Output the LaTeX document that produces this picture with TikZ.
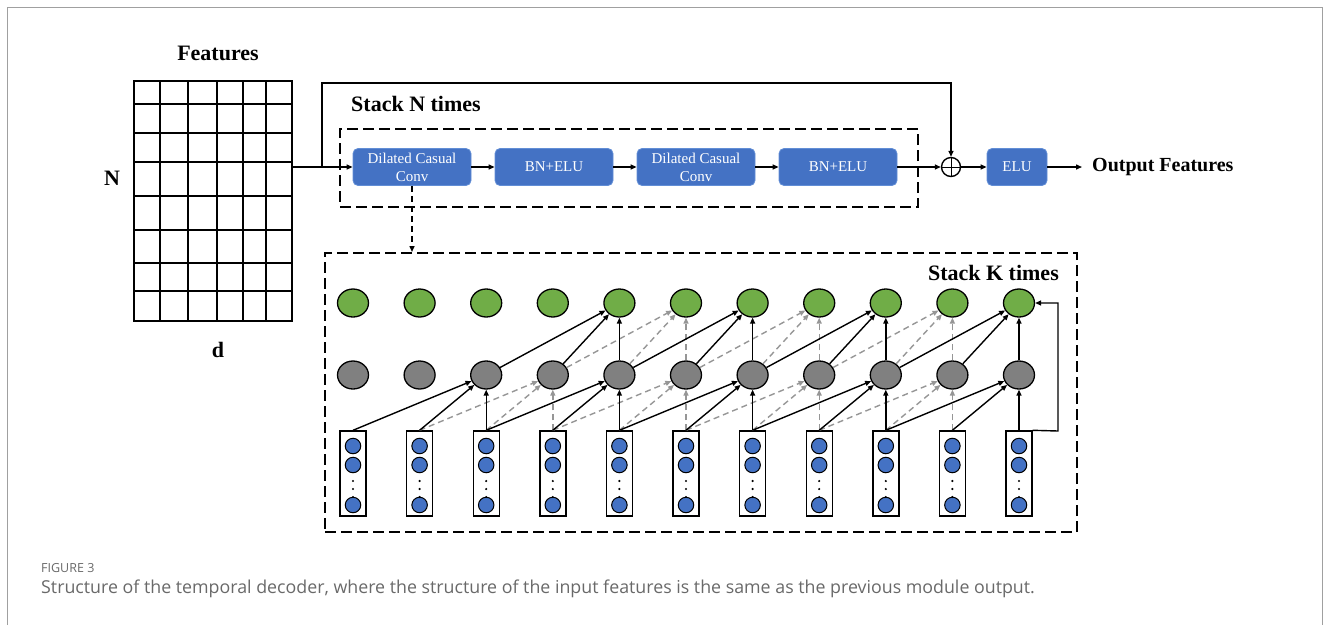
\documentclass[tikz,border=0pt]{standalone}
\usepackage{fontspec}
\setmainfont{Liberation Serif}
\newfontfamily\capfont{Open Sans}
\usetikzlibrary{arrows.meta,shapes.geometric}
\definecolor{boxblue}{RGB}{68,114,196}
\definecolor{boxedge}{RGB}{98,142,214}
\definecolor{leafgreen}{RGB}{112,173,71}
\definecolor{midgray}{RGB}{128,128,128}
\definecolor{dashgray}{RGB}{150,150,150}
\definecolor{framegray}{RGB}{160,160,160}
\definecolor{capgray}{RGB}{105,105,105}
\tikzset{
  blk/.style={draw=boxedge, line width=0.8pt, fill=boxblue, rounded corners=5pt, text=white,
    minimum width=118pt, minimum height=37pt, inner sep=0pt, align=center,
    font=\fontsize{15}{18}\selectfont},
  arr/.style={-{Triangle[length=6pt,width=5pt]}, line width=1.4pt, black},
  darr/.style={-{Triangle[length=6pt,width=5pt]}, line width=1.4pt, dashgray, dash pattern=on 6pt off 4pt},
  kdarr/.style={-{Triangle[length=6pt,width=5pt]}, line width=1.4pt, black, dash pattern=on 6pt off 4pt},
  dbox/.style={draw, line width=2pt, dash pattern=on 11pt off 5pt, inner sep=0pt},
  gnode/.style={ellipse, draw, line width=1.3pt, fill=leafgreen, minimum width=31pt, minimum height=28pt, inner sep=0pt},
  hnode/.style={ellipse, draw, line width=1.3pt, fill=midgray, minimum width=31pt, minimum height=28pt, inner sep=0pt},
  inbox/.style={draw, line width=1.4pt, minimum width=26pt, minimum height=85pt, inner sep=0pt},
  unit/.style={circle, draw, line width=1pt, fill=boxblue, minimum size=15.5pt, inner sep=0pt},
  bigtxt/.style={font=\fontsize{22}{25}\selectfont\bfseries, inner sep=0pt},
}
\begin{document}
\begin{tikzpicture}[x=1pt,y=-1pt]
\useasboundingbox (0,0) rectangle (1331,625);
% frame
\draw[framegray, line width=1pt] (7,625) -- (7,7) -- (1322,7) -- (1322,625);

% feature grid
\node[draw, line width=2pt, minimum width=158pt, minimum height=240pt, inner sep=0pt] (grid) at (213,201) {};
\foreach \yy in {104,133,162,196,230,263,291} \draw[line width=2pt] (134,\yy) -- (292,\yy);
\foreach \xx in {160,188,217,243,266} \draw[line width=2pt] (\xx,81) -- (\xx,321);
\node[bigtxt] (feat) at (218,53) {Features};
\node[bigtxt] (nlab) at (112,178) {N};
\node[bigtxt] (dlab) at (218,350) {d};

% Stack N
\node[dbox, minimum width=578pt, minimum height=78pt] (nbox) at (629,168) {};
\node[bigtxt, anchor=west] (ntxt) at (351,104) {Stack N times};
\node[blk] (dcc1) at (412,167) {Dilated Casual\\Conv};
\node[blk] (bn1) at (554,167) {BN+ELU};
\node[blk] (dcc2) at (696,167) {Dilated Casual\\Conv};
\node[blk] (bn2) at (838,167) {BN+ELU};
\node[circle, draw, line width=1.4pt, fill=white, minimum size=19pt, inner sep=0pt] (plus) at (951,167) {};
\draw[line width=1pt] (plus.north) -- (plus.south) (plus.west) -- (plus.east);
\node[blk, minimum width=60pt] (elu) at (1017,167) {ELU};
\node[font=\fontsize{20}{24}\selectfont\bfseries, anchor=west, inner ysep=0pt, inner xsep=10pt] (outf) at (1082,167) {Output Features};

\coordinate (sk) at (322,167);
\coordinate (skt) at (322,83);
\draw[line width=1.4pt] (grid.east |- dcc1) -- (sk);
\draw[arr] (sk) -- (dcc1);
\draw[arr] (sk) -- (skt) -| (plus.north);
\draw[arr] (dcc1) -- (bn1);
\draw[arr] (bn1) -- (dcc2);
\draw[arr] (dcc2) -- (bn2);
\draw[arr] (bn2) -- (plus);
\draw[arr] (plus) -- (elu);
\draw[arr] (elu) -- (outf.west);

% Stack K
\node[dbox, minimum width=752pt, minimum height=279pt] (kbox) at (701,392.5) {};
\node[bigtxt, anchor=east] (ktxt) at (1059,273) {Stack K times};
\draw[kdarr] (dcc1.south) -- (dcc1.south |- kbox.north);

\foreach \i in {1,...,11} {
  \pgfmathsetmacro\xc{353+66.6*(\i-1)}
  \node[gnode] (gn\i) at (\xc,303) {};
  \node[hnode] (gr\i) at (\xc,375) {};
  \node[inbox] (in\i) at (\xc,473.5) {};
  \node[unit] (ua\i) at (\xc,446) {};
  \node[unit] (ub\i) at (\xc,465) {};
  \node[unit] (uc\i) at (\xc,505) {};
  \foreach \yy in {481,489,497} \fill (\xc,\yy) circle (1.2pt);
}

% dashed (gray) connections
\foreach \j in {4,6,8,10} {
  \pgfmathtruncatemacro\a{\j-2}
  \pgfmathtruncatemacro\b{\j-1}
  \draw[darr] (in\a.north) -- (gr\j);
  \draw[darr] (in\b.north) -- (gr\j);
  \draw[darr] (in\j.north) -- (gr\j);
}
\foreach \j in {6,8,10} {
  \pgfmathtruncatemacro\a{\j-2}
  \pgfmathtruncatemacro\b{\j-1}
  \draw[darr] (gr\a) -- (gn\j);
  \draw[darr] (gr\b) -- (gn\j);
  \draw[darr] (gr\j) -- (gn\j);
}
% solid connections
\foreach \j in {3,5,7,9,11} {
  \pgfmathtruncatemacro\a{\j-2}
  \pgfmathtruncatemacro\b{\j-1}
  \draw[arr] (in\a.north) -- (gr\j);
  \draw[arr] (in\b.north) -- (gr\j);
  \draw[arr] (in\j.north) -- (gr\j);
}
\foreach \j in {5,7,9,11} {
  \pgfmathtruncatemacro\a{\j-2}
  \pgfmathtruncatemacro\b{\j-1}
  \draw[arr] (gr\a) -- (gn\j);
  \draw[arr] (gr\b) -- (gn\j);
  \draw[arr] (gr\j) -- (gn\j);
}
\coordinate (rc) at (1058,431);
\draw[arr] (in11.north east) -- (rc) |- (gn11.east);

% caption
\node[anchor=west, inner sep=0pt, text=capgray, font=\capfont\fontsize{12.5}{14}\selectfont] (figno) at (41,568) {FIGURE 3};
\node[anchor=west, inner sep=0pt, text=capgray, font=\capfont\fontsize{17.8}{21}\selectfont] (cap) at (41,589) {Structure of the temporal decoder, where the structure of the input features is the same as the previous module output.};
\end{tikzpicture}
\end{document}
